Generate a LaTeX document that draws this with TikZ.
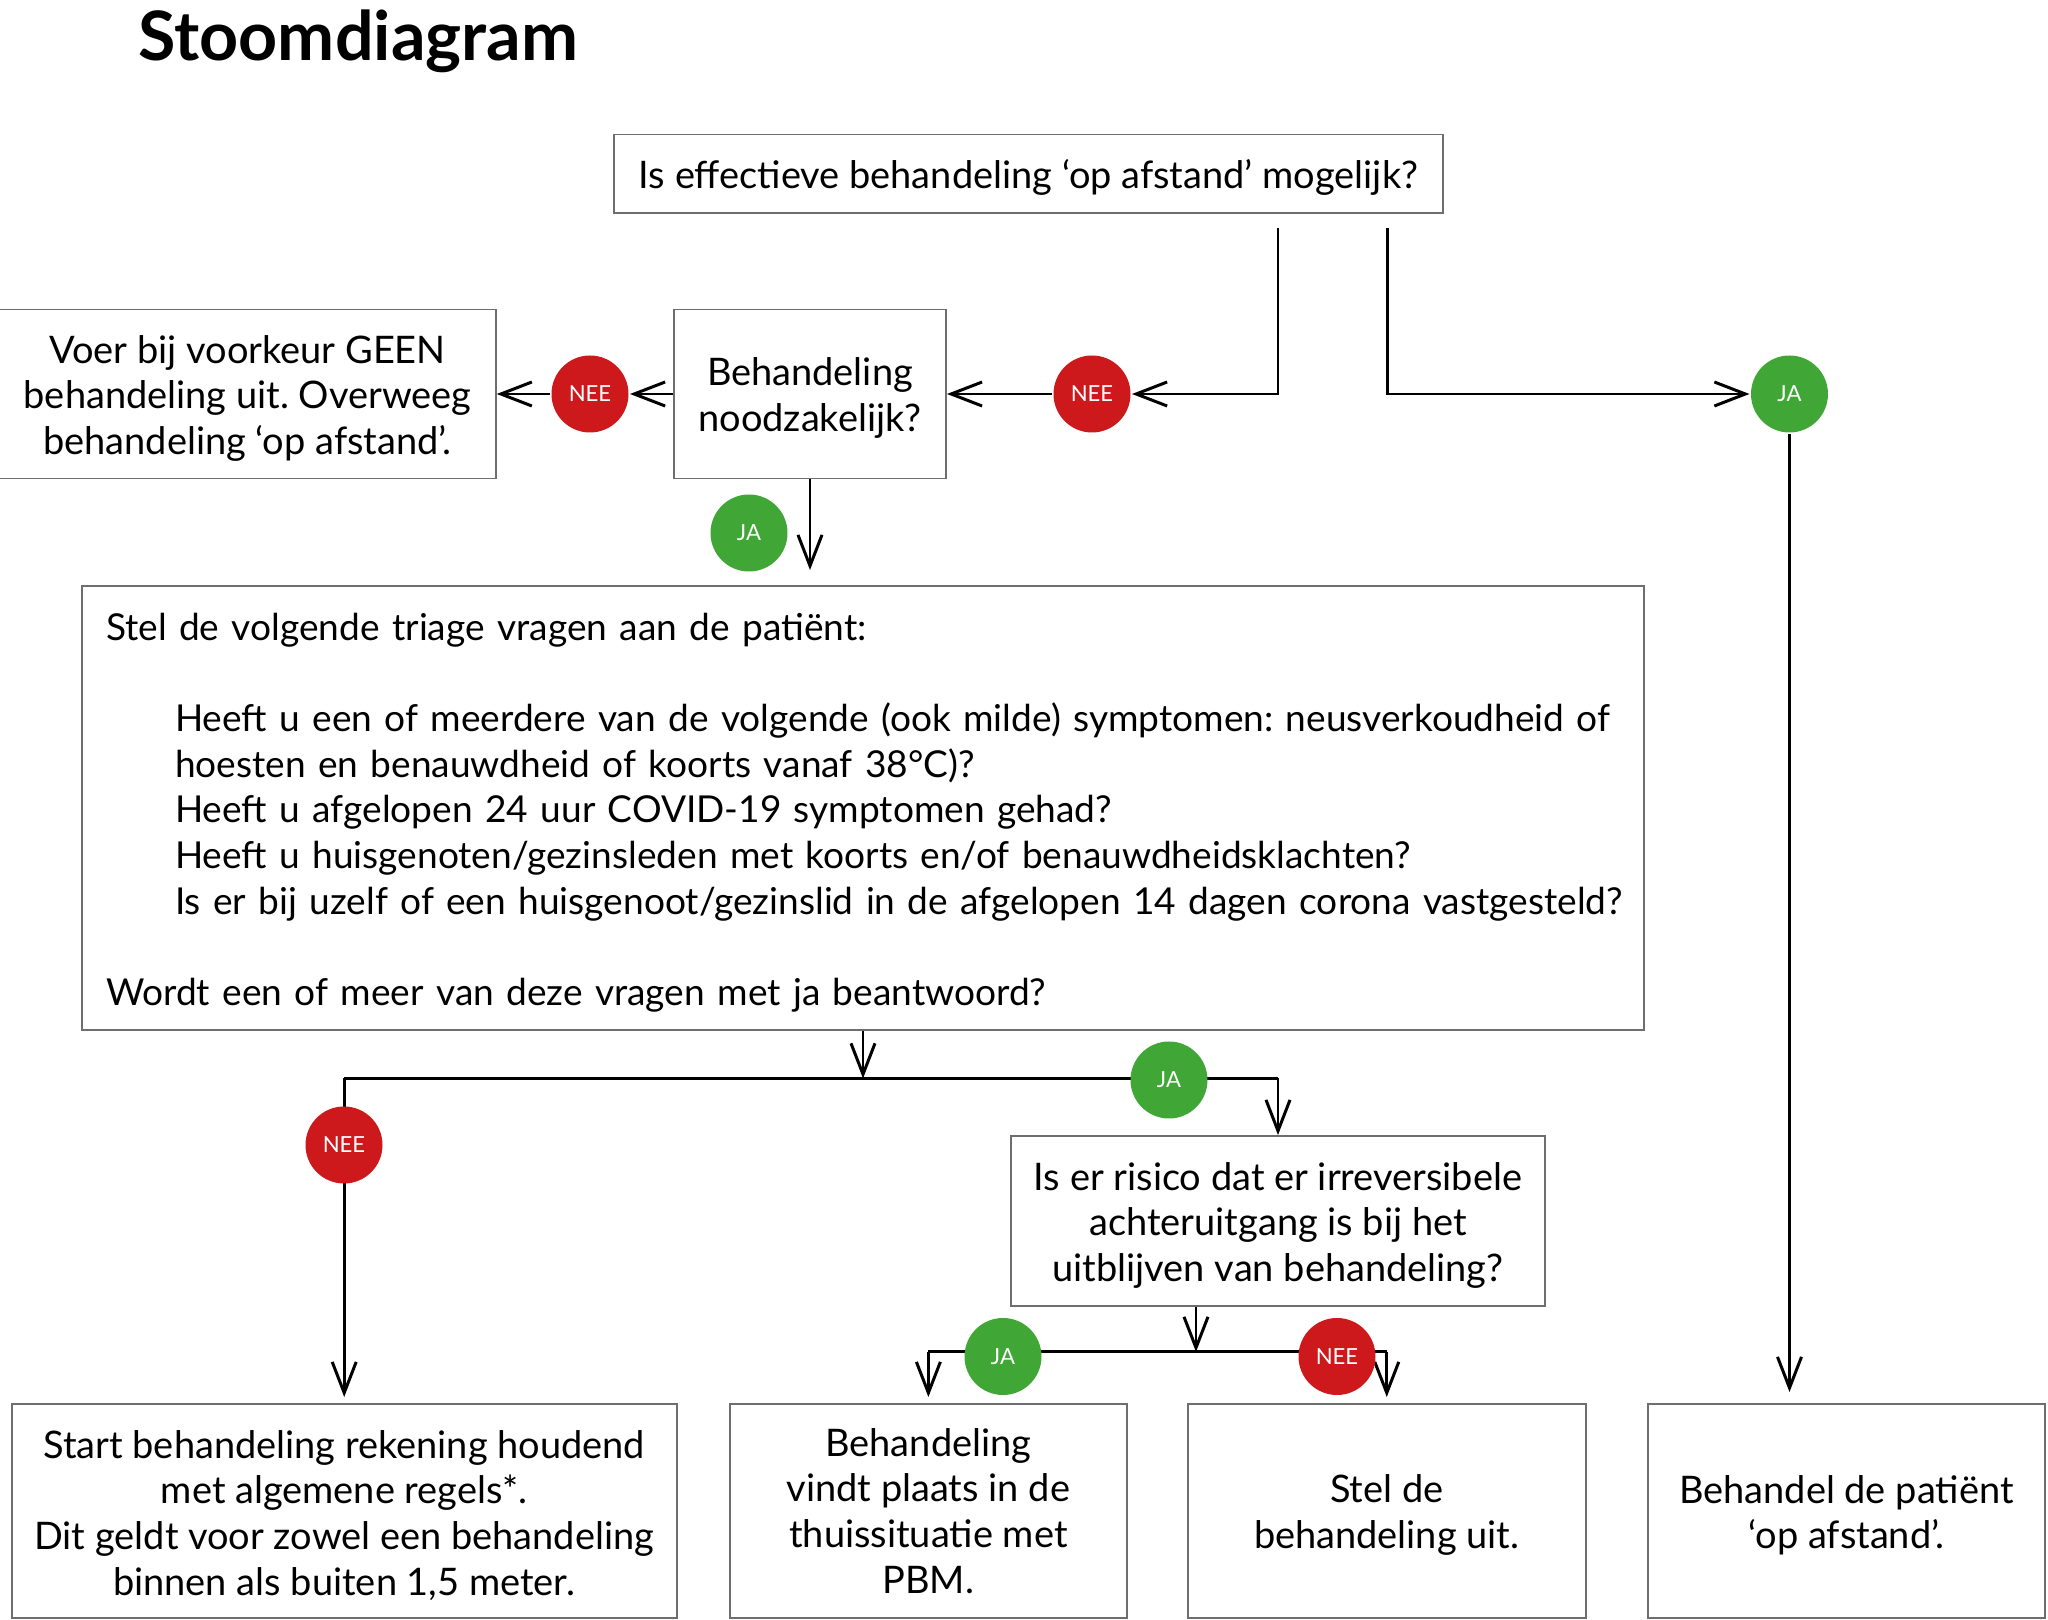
\documentclass[tikz,border=0pt]{standalone}
\usepackage{fontspec}
\setmainfont{Lato}
\usetikzlibrary{arrows.meta,positioning,calc}
\definecolor{neered}{RGB}{205,24,28}
\definecolor{jagreen}{RGB}{64,166,54}
\definecolor{boxgray}{RGB}{110,110,110}
\frenchspacing
\newcommand{\hoog}{\rule{0pt}{10.4pt}}

\begin{document}
\begin{tikzpicture}[->, >={Straight Barb[length=3.1mm,width=2.4mm]}, line width=0.85pt, node distance=1cm]
\tikzstyle{every node}=[font=\fontsize{10.8}{13}\selectfont]
\tikzstyle{vraag}=[draw=boxgray, line width=0.55pt, fill=white, align=center, inner sep=0pt]
\tikzstyle{nee}=[circle, fill=neered, text=white, minimum size=7.7mm, inner sep=0pt, font=\fontsize{6.3}{7}\selectfont]
\tikzstyle{ja}=[nee, fill=jagreen]

\useasboundingbox (0,0) rectangle (20.48,-16.20);
\node[anchor=base west, inner sep=0pt, font=\fontsize{19.4}{22}\selectfont\bfseries] (titel) at (1.37,-0.605) {Stoomdiagram};

% vragen
\node[vraag, minimum width=8.29cm, minimum height=0.785cm] (Q1) at (10.285,-1.7375) {\hoog Is effectieve behandeling ‘op afstand’ mogelijk?};
\node[vraag, minimum width=2.72cm, minimum height=1.69cm] (Q2) at (8.10,-3.94) {\hoog Behandeling\\noodzakelijk?};
\node[vraag, minimum width=4.964cm, minimum height=1.69cm, left=1.763cm of Q2] (geen) {\hoog Voer bij voorkeur GEEN\\behandeling uit. Overweeg\\behandeling ‘op afstand’.};
\node[vraag, align=left, text width=15.14cm, inner xsep=2.4mm, minimum height=4.44cm, font=\fontsize{10.55}{13}\selectfont] (triage) at (8.63,-8.08) {\hoog Stel de volgende triage vragen aan de patiënt:\\[13pt]
\hspace*{6.9mm}Heeft u een of meerdere van de volgende (ook milde) symptomen: neusverkoudheid of\\
\hspace*{6.9mm}hoesten en benauwdheid of koorts vanaf 38°C)?\\
\hspace*{6.9mm}Heeft u afgelopen 24 uur COVID-19 symptomen gehad?\\
\hspace*{6.9mm}Heeft u huisgenoten/gezinsleden met koorts en/of benauwdheidsklachten?\\
\hspace*{6.9mm}\mbox{Is er bij uzelf of een huisgenoot/gezinslid in de afgelopen 14 dagen corona vastgesteld?}\\[13pt]
Wordt een of meer van deze vragen met ja beantwoord?};
\node[vraag, minimum width=5.34cm, minimum height=1.70cm] (risico) at (12.78,-12.21) {\hoog Is er risico dat er irreversibele\\achteruitgang is bij het\\uitblijven van behandeling?};

% uitkomsten
\node[vraag, minimum width=6.65cm, minimum height=2.14cm] (start) at (3.442,-15.11) {\hoog Start behandeling rekening houdend\\met algemene regels*.\\Dit geldt voor zowel een behandeling\\binnen als buiten 1,5 meter.};
\node[vraag, minimum width=3.975cm, minimum height=2.14cm, right=0.51cm of start] (thuis) {Behandeling\\vindt plaats in de\\thuissituatie met\\PBM.};
\node[vraag, minimum width=3.984cm, minimum height=2.14cm, right=0.585cm of thuis] (uitstel) {\hoog Stel de\\behandeling uit.};
\node[vraag, minimum width=3.97cm, minimum height=2.14cm, right=0.60cm of uitstel] (afstand) {\hoog Behandel de patiënt\\‘op afstand’.};

\node[nee] (nee0) at (10.92,-3.94) {NEE};
\node[nee] (nee1) at (5.90,-3.94) {NEE};
\node[ja]  (ja0)  at (17.895,-3.94) {JA};

\coordinate (split1) at ($(triage.south)+(0,-0.475)$);
\coordinate (split2) at ($(risico.south)+(-0.82,-0.45)$);

\draw ([xshift=2.495cm,yshift=-0.14cm]Q1.south) |- (nee0);
\draw ([xshift=3.585cm,yshift=-0.14cm]Q1.south) |- (ja0);
\path
(nee0) edge (Q2)
(Q2)   edge (nee1)
(nee1) edge (geen);
\draw[shorten >=1.1mm] (ja0) -- (ja0 |- afstand.north);
\draw (Q2.south) -- ($(Q2.south |- triage.north)+(0,0.15)$);
\draw (triage.south) -- (split1);
\draw[-] (split1 -| start.north) -- (split1 -| risico.north);
\draw (split1 -| risico.north) -- (risico.north);
\draw[shorten >=0.6mm] (split1 -| start.north) -- (start.north);
\draw (risico.south -| split2) -- (split2);
\draw[-] (split2 -| thuis.north) -- (split2 -| uitstel.north);
\draw[shorten >=0.6mm] (split2 -| thuis.north) -- (thuis.north);
\draw[shorten >=0.6mm] (split2 -| uitstel.north) -- (uitstel.north);

% labels op de lijnen
\node[ja]  (ja1)  at (7.49,-5.33) {JA};
\node[ja]  (ja2)  at (11.69,-10.80) {JA};
\node[nee] (nee2) at (3.44,-11.45) {NEE};
\node[ja]  (ja3)  at (10.03,-13.565) {JA};
\node[nee] (nee3) at (13.37,-13.565) {NEE};
\end{tikzpicture}
\end{document}
